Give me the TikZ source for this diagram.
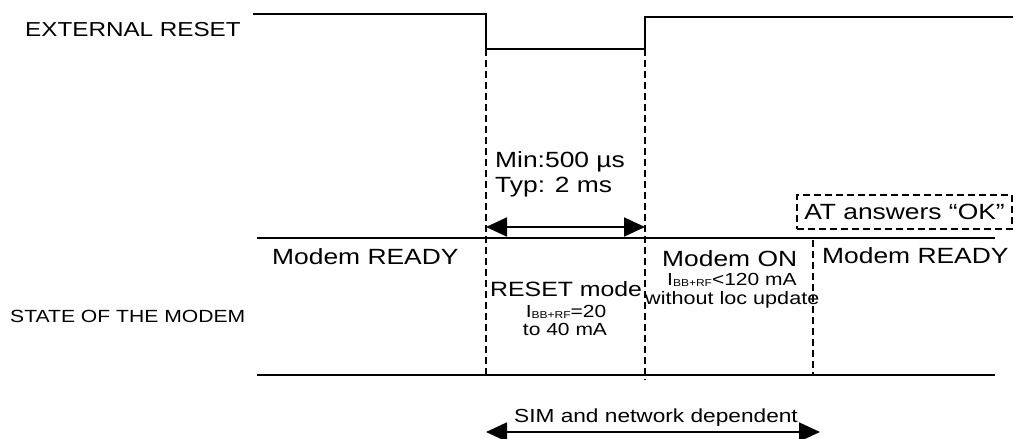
\documentclass[tikz,border=0pt]{standalone}
\usepackage{fontspec}
\setmainfont{Liberation Sans}[FakeStretch=1.2]
\usetikzlibrary{arrows.meta}
\newcommand{\fs}[1]{\fontsize{#1}{#1}\selectfont}
\newcommand{\ibb}{I\raisebox{-1.5pt}{\fs{10}BB+RF}}
\begin{document}
\begin{tikzpicture}[x=1pt,y=-1pt,
  sig/.style={line width=1.8pt},
  grid/.style={line width=1.8pt},
  dsh/.style={line width=1.5pt,dash pattern=on 7pt off 4pt},
  lbl/.style={inner sep=0pt,anchor=base west},
  dbl/.style={line width=1.8pt,{Triangle[length=21pt,width=19pt]}-{Triangle[length=21pt,width=19pt]}}]
\useasboundingbox (0,0) rectangle (1015,439);
% signal coordinates
\coordinate (s0) at (253,14);
\coordinate (s1) at (486,14);
\coordinate (s2) at (486,49);
\coordinate (s3) at (645,49);
\coordinate (s4) at (645,17);
\coordinate (s5) at (1013,17);
\draw[sig] (s0) -- (s1) -- (s2) -- (s3) -- (s4) -- (s5);
% state lines
\coordinate (m0) at (257,238);
\coordinate (m1) at (995,238);
\coordinate (b0) at (257,375);
\coordinate (b1) at (995,375);
\draw[grid] (m0) -- (m1);
\draw[grid] (b0) -- (b1);
% dashed verticals
\coordinate (d1b) at (486,375);
\coordinate (d2b) at (645,380);
\coordinate (d3t) at (813,240);
\coordinate (d3b) at (813,375);
\draw[dsh] (s2) -- (d1b);
\draw[dsh] (s3) -- (d2b);
\draw[dsh] (d3t) -- (d3b);
% arrows
\coordinate (a1) at (486,227);
\coordinate (a2) at (645,227);
\draw[dbl] (a1) -- (a2);
\coordinate (c1) at (486,432);
\coordinate (c2) at (820,432);
\draw[dbl] (c1) -- (c2);
% labels
\node[lbl] (ext) at (25,36) {\fs{20.2}EXTERNAL RESET};
\node[lbl] (state) at (10,322) {\fs{17.6}STATE OF THE MODEM};
\node[lbl] (readyL) at (272,264) {\fs{22}Modem READY};
\node[lbl] (min) at (495,167) {\fs{22}Min:500 µs};
\node[lbl] (typ) at (495,192) {\fs{22}Typ: 2 ms};
\node[lbl] (reset) at (490,296) {\fs{20.7}RESET mode};
\node[inner sep=0pt,anchor=base] (ibbA) at (566,317) {\fs{17.5}\ibb=20};
\node[inner sep=0pt,anchor=base] (to40) at (565,335) {\fs{17.5}to 40 mA};
\node[lbl] (on) at (662,266) {\fs{22}Modem ON};
\node[lbl] (ibbB) at (667,285) {\fs{17.5}\ibb<120 mA};
\node[lbl] (woloc) at (645,304) {\fs{18}without loc update};
\node[lbl] (readyR) at (822,263) {\fs{22}Modem READY};
\node[draw,dsh,inner sep=0pt,minimum width=215pt,minimum height=34pt] (at) at (904.5,212) {\fs{22}AT answers “OK”};
\node[inner sep=0pt,anchor=base] (sim) at (656,422) {\fs{18.9}SIM and network dependent};
\end{tikzpicture}
\end{document}
